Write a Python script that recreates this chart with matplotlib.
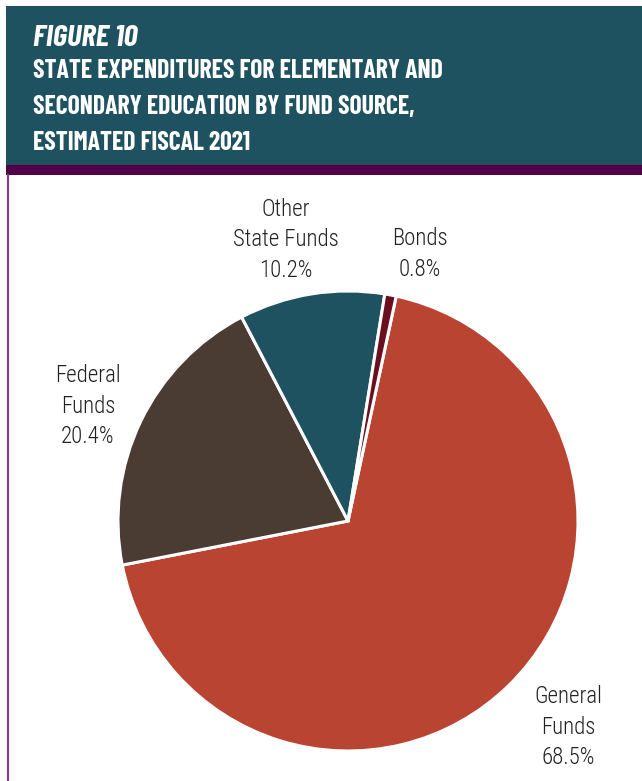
import matplotlib.pyplot as plt
from matplotlib.patches import Rectangle
from matplotlib.lines import Line2D

# Fund source shares (percent), clockwise from the top
sources = ["General\nFunds", "Federal\nFunds", "Other\nState Funds", "Bonds"]
shares = [68.5, 20.4, 10.2, 0.8]
colors = ["#b94432", "#4a3b33", "#1f5260", "#6b0f1e"]

# label anchor points in pixel coords (x, y from top)
label_pos = [(568, 727), (88, 406), (286, 240), (420, 254)]

W, H = 642, 781
plt.rcParams['font.family'] = ['Roboto Condensed', 'Archivo Narrow', 'DejaVu Sans']
head_font = ['Barlow Condensed', 'Roboto Condensed', 'DejaVu Sans']

fig = plt.figure(figsize=(W / 100, H / 100), dpi=100)
fig.patch.set_facecolor("white")

# header band, purple rule and left border
fig.patches.append(Rectangle((6 / W, 1 - 165 / H), 1, 159 / H, transform=fig.transFigure,
                             facecolor="#1f5260", edgecolor="none"))
fig.patches.append(Rectangle((6 / W, 1 - 175 / H), 1, 10 / H, transform=fig.transFigure,
                             facecolor="#520047", edgecolor="none"))
fig.lines.append(Line2D([8 / W, 8 / W], [0, 1 - 175 / H], transform=fig.transFigure,
                        color="#7d3f86", lw=1.6))

fig.text(33 / W, 1 - 38 / H, "FIGURE 10", color="white", fontsize=22.5, fontweight="bold",
         fontstyle="italic", va="center", family=head_font)
title = "STATE EXPENDITURES FOR ELEMENTARY AND\nSECONDARY EDUCATION BY FUND SOURCE,\nESTIMATED FISCAL 2021"
fig.text(33 / W, 1 - 107 / H, title, color="white", fontsize=18.5, fontweight="bold",
         va="center", linespacing=1.65, family=head_font)

# pie
cx, cy, r = 348, 521, 230
ax = fig.add_axes([(cx - r) / W, (H - cy - r) / H, 2 * r / W, 2 * r / H])
ax.pie(shares, colors=colors, startangle=77.9, counterclock=False, radius=1,
       wedgeprops=dict(edgecolor="white", linewidth=2.2))
ax.set_xlim(-1, 1)
ax.set_ylim(-1, 1)
ax.set_aspect("equal")
ax.axis("off")

for name, val, (px, py) in zip(sources, shares, label_pos):
    fig.text(px / W, 1 - py / H, f"{name}\n{val}%", ha="center", va="center",
             fontsize=16.5, fontweight="light", color="#222222", linespacing=1.42)

fig.savefig("out.png", dpi=100)
